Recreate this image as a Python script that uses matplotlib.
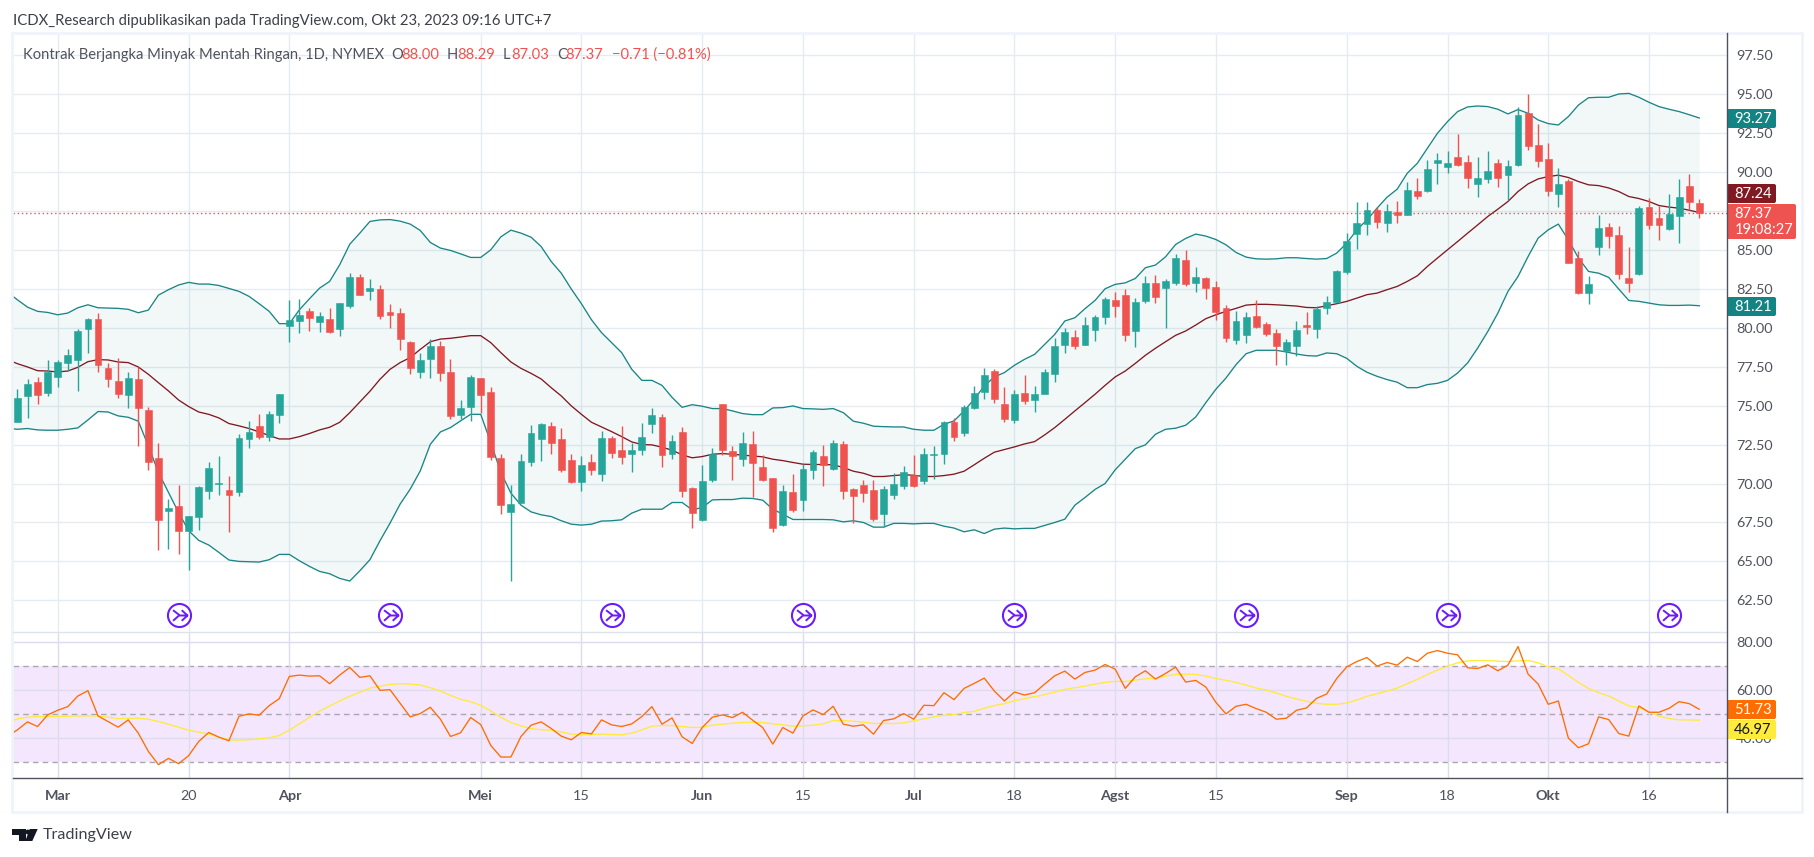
import numpy as np
import matplotlib
matplotlib.use("Agg")
import matplotlib.pyplot as plt
from matplotlib.patches import FancyBboxPatch, Rectangle, Polygon, Circle
from matplotlib.path import Path

# candles, one value per trading day
opens = [73.93,75.60,76.50,75.79,76.82,77.71,77.90,79.89,80.53,77.39,
    76.56,75.66,76.69,74.74,71.62,68.23,68.55,66.94,67.84,69.51,
    69.98,69.57,69.44,72.84,73.68,72.97,74.38,80.09,80.41,81.05,
    80.34,80.53,79.89,81.41,83.25,82.37,82.50,81.03,80.96,79.06,
    77.14,77.97,78.80,77.14,74.38,74.89,76.75,75.85,71.62,68.16,
    68.74,71.37,72.84,73.68,72.84,71.50,70.09,71.37,70.60,72.91,
    72.13,71.88,72.13,73.80,74.25,71.88,73.29,69.70,67.65,70.21,
    75.09,72.07,71.56,72.52,71.05,70.34,67.33,69.44,68.93,70.85,
    71.75,70.92,72.52,69.64,69.89,69.57,68.03,69.25,69.83,70.53,
    70.15,71.84,71.88,73.93,73.23,74.83,75.85,77.20,75.09,74.06,
    75.79,75.34,75.73,77.01,78.87,79.38,78.87,79.83,80.66,81.75,
    82.07,79.76,81.69,82.84,82.52,82.84,84.32,82.84,83.16,82.59,
    81.28,79.23,79.55,80.77,80.26,79.68,78.53,78.85,80.19,79.94,
    81.28,81.67,83.59,86.03,86.67,87.56,86.73,87.44,87.24,88.78,
    88.78,90.58,90.32,90.96,90.64,89.23,89.55,90.58,89.81,90.45,
    93.78,91.73,90.83,88.59,89.42,84.49,82.24,85.19,86.47,85.96,
    83.20,83.46,87.76,87.05,86.35,87.18,89.10,88.00]
closes = [75.47,76.37,75.66,77.14,77.78,78.23,79.76,80.53,77.59,76.69,
    75.73,76.75,74.83,71.37,67.65,68.42,66.94,67.90,69.76,70.98,
    70.02,69.25,72.91,73.29,72.97,74.44,75.73,80.47,80.79,80.60,
    80.73,79.70,81.56,83.25,82.12,82.56,80.77,80.83,79.25,77.39,
    77.90,78.80,77.07,74.32,74.83,76.82,75.66,71.69,68.61,68.68,
    71.43,73.23,73.80,72.59,70.85,70.09,71.18,70.85,72.91,71.94,
    71.69,72.13,72.97,74.38,71.82,72.71,69.51,68.10,70.15,71.88,
    72.13,71.75,72.59,71.30,70.21,67.14,69.51,68.29,70.92,72.01,
    71.18,72.59,69.51,69.19,69.38,67.71,69.64,69.96,70.73,69.83,
    71.88,71.88,73.93,72.97,74.89,75.79,76.94,75.41,74.12,75.73,
    75.28,75.73,77.14,78.80,79.70,78.80,80.15,80.66,81.82,81.37,
    79.51,81.62,82.84,81.95,82.97,84.45,82.78,83.23,82.52,80.98,
    79.36,80.45,80.70,80.06,79.62,78.85,79.10,79.87,80.06,81.22,
    81.67,83.65,85.58,86.73,87.56,86.79,87.50,87.24,88.85,88.46,
    90.19,90.77,90.58,90.45,89.62,89.62,90.06,89.62,90.38,93.65,
    91.67,90.71,88.78,89.23,84.17,82.24,82.82,86.41,85.90,83.46,
    82.88,87.69,86.60,86.60,87.31,88.40,88.08,87.37]
highs = [76.05,76.69,76.86,77.90,77.90,78.65,79.94,80.64,80.96,77.76,
    78.08,77.18,77.46,74.94,72.63,69.00,69.89,67.90,69.82,71.35,
    71.75,70.49,73.16,74.00,74.44,74.68,75.77,81.75,81.86,81.28,
    81.00,81.24,81.60,83.50,83.44,83.14,82.76,81.54,81.26,79.12,
    78.40,79.25,79.12,77.97,75.34,76.99,76.75,76.18,71.88,69.89,
    71.88,73.74,73.87,73.93,73.55,71.88,71.75,71.88,73.35,73.03,
    73.67,72.59,73.87,74.83,74.44,73.10,73.61,69.76,71.18,72.26,
    75.13,72.39,73.29,73.35,71.82,70.38,69.89,70.60,71.24,72.14,
    72.46,72.78,72.71,69.70,70.21,70.21,69.83,70.66,71.11,71.82,
    72.26,72.39,74.00,74.19,75.02,76.24,77.39,77.33,76.18,75.98,
    76.94,76.24,77.33,79.32,79.96,79.83,80.66,80.79,81.97,82.26,
    82.46,81.88,83.30,83.36,83.10,84.70,84.96,83.87,83.23,82.97,
    81.47,81.09,81.03,81.79,80.38,79.94,79.30,80.45,81.00,81.41,
    82.05,83.72,86.09,88.08,88.08,87.76,87.95,88.14,89.36,89.62,
    90.77,91.22,91.35,92.44,91.09,90.96,91.35,90.83,90.77,94.15,
    95.00,93.08,91.86,90.26,89.55,84.94,83.33,87.24,86.73,86.54,
    85.19,87.82,88.33,87.82,88.59,89.55,89.87,88.29]
lows = [73.93,74.19,75.09,75.62,76.18,77.24,75.92,78.35,77.16,76.18,
    75.47,74.85,72.39,70.85,65.73,65.79,65.47,64.44,67.00,69.00,
    69.25,66.88,69.19,72.26,72.84,72.71,73.87,79.06,79.64,79.76,
    79.70,79.64,79.44,81.28,82.12,81.79,80.53,79.96,78.60,77.00,
    76.75,76.75,76.56,74.12,74.12,74.00,74.55,71.50,68.03,63.74,
    68.74,71.11,71.43,71.88,70.73,70.02,69.51,70.53,70.15,71.62,
    71.24,70.73,71.82,73.23,71.05,71.56,69.12,67.14,67.60,70.09,
    71.82,70.21,71.11,69.12,70.15,66.88,67.29,68.16,68.23,70.27,
    69.83,70.85,69.00,67.46,68.80,67.58,67.20,69.00,69.64,69.76,
    69.96,70.27,71.24,72.71,73.03,74.76,75.41,75.15,73.93,73.87,
    75.09,74.57,75.73,76.50,78.35,78.61,78.87,79.12,80.21,80.66,
    79.12,78.74,81.56,81.56,79.96,82.71,82.65,82.26,81.82,80.47,
    79.10,78.97,79.04,80.00,79.49,77.63,77.63,78.21,79.62,79.36,
    80.90,81.58,83.46,85.06,85.96,86.41,86.15,86.73,87.24,88.27,
    88.72,89.23,89.94,90.38,88.97,88.40,89.29,89.04,88.21,90.38,
    91.41,90.32,88.46,87.76,84.17,82.18,81.54,84.68,85.13,83.14,
    82.31,83.40,86.35,85.64,86.28,85.45,87.56,87.03]

# Bollinger bands (first value is the bar just left of the visible range)
bb_upper = [82.29,81.79,81.32,81.05,80.98,80.83,80.94,81.28,81.47,81.28,81.26,
    81.24,81.18,80.96,81.13,82.09,82.44,82.74,82.91,82.80,82.80,
    82.71,82.52,82.33,82.01,81.54,81.05,80.26,80.26,81.15,81.86,
    82.54,82.97,84.04,85.36,86.07,86.82,86.92,86.94,86.84,86.65,
    86.24,85.47,85.11,84.96,84.74,84.51,84.51,85.00,85.83,86.26,
    86.07,85.81,85.21,84.25,83.50,82.48,81.54,80.51,79.68,79.04,
    78.40,77.33,76.62,76.62,76.30,75.53,74.89,75.06,74.96,74.81,
    74.81,74.66,74.49,74.42,74.42,74.85,74.87,74.98,74.81,74.79,
    74.76,74.81,74.55,74.00,73.87,73.68,73.65,73.63,73.63,73.48,
    73.42,73.42,73.80,74.02,74.66,75.41,76.26,76.84,77.12,77.59,
    77.97,78.29,78.93,79.57,80.43,80.64,81.22,81.75,82.50,82.78,
    82.88,83.16,83.85,84.02,84.55,85.34,85.73,86.01,85.88,85.66,
    85.32,84.83,84.53,84.42,84.40,84.42,84.49,84.49,84.44,84.40,
    84.44,84.79,85.43,86.28,86.92,87.67,88.38,88.89,89.91,90.55,
    91.51,92.48,93.23,93.87,94.17,94.23,94.19,94.02,93.72,94.00,
    93.76,93.33,93.10,93.01,93.55,94.29,94.76,94.79,94.79,95.00,
    95.04,94.79,94.47,94.19,94.02,93.87,93.67,93.46]
bb_basis = [77.95,77.69,77.48,77.24,77.22,77.16,77.22,77.46,77.82,77.95,77.93,
    77.80,77.76,77.48,77.01,76.47,75.94,75.36,74.94,74.59,74.44,
    74.21,73.85,73.70,73.53,73.31,73.08,72.86,72.86,73.01,73.21,
    73.44,73.61,73.93,74.55,75.24,75.92,76.69,77.33,77.76,78.08,
    78.61,79.10,79.27,79.32,79.40,79.49,79.49,79.04,78.40,77.80,
    77.39,77.07,76.71,76.15,75.62,74.98,74.44,73.93,73.63,73.33,
    73.01,72.67,72.50,72.48,72.33,72.14,71.84,71.65,71.73,71.88,
    71.92,71.88,71.82,71.77,71.71,71.56,71.47,71.35,71.24,71.22,
    71.22,71.20,71.03,70.79,70.66,70.45,70.45,70.51,70.56,70.53,
    70.45,70.45,70.51,70.60,70.79,71.20,71.62,72.01,72.18,72.35,
    72.54,72.69,73.12,73.59,74.12,74.66,75.19,75.73,76.30,76.84,
    77.22,77.71,78.23,78.68,79.10,79.51,79.79,80.17,80.58,80.83,
    81.05,81.24,81.45,81.50,81.50,81.47,81.43,81.39,81.30,81.28,
    81.41,81.54,81.69,81.90,82.12,82.22,82.44,82.65,82.97,83.33,
    83.93,84.47,85.00,85.53,86.07,86.60,87.14,87.61,88.10,88.74,
    89.23,89.55,89.70,89.79,89.64,89.38,89.17,89.12,88.97,88.74,
    88.42,88.29,88.10,87.84,87.74,87.67,87.54,87.39]
bb_lower = [73.55,73.48,73.53,73.44,73.42,73.42,73.48,73.57,74.08,74.62,74.59,
    74.34,74.25,74.00,72.41,70.71,69.42,68.14,66.97,66.35,66.05,
    65.58,65.09,65.00,64.98,64.96,65.11,65.45,65.45,65.04,64.68,
    64.36,64.21,63.91,63.74,64.40,65.11,66.33,67.46,68.68,69.64,
    70.81,72.52,73.31,73.59,74.02,74.44,74.44,72.63,70.71,69.38,
    68.61,68.18,67.99,67.88,67.61,67.39,67.33,67.39,67.59,67.61,
    67.67,68.10,68.35,68.35,68.35,68.78,68.78,68.31,68.46,68.95,
    68.97,68.97,69.06,69.04,68.93,68.35,68.03,67.69,67.69,67.69,
    67.69,67.67,67.54,67.61,67.50,67.20,67.20,67.44,67.44,67.41,
    67.44,67.44,67.26,67.14,66.90,67.03,66.79,67.07,67.14,67.09,
    67.12,67.12,67.31,67.50,67.71,68.61,69.10,69.62,70.00,70.88,
    71.56,72.24,72.48,73.16,73.48,73.55,73.74,74.27,75.19,76.05,
    76.77,77.63,78.33,78.55,78.55,78.55,78.44,78.31,78.21,78.18,
    78.38,78.33,78.03,77.52,77.14,76.88,76.67,76.50,76.15,76.15,
    76.35,76.43,76.62,77.09,77.74,78.70,79.76,80.94,82.33,83.29,
    84.57,85.75,86.28,86.65,85.64,84.47,83.61,83.50,83.23,82.48,
    81.75,81.69,81.58,81.47,81.43,81.43,81.45,81.41]

# RSI and its moving average (same leading bar)
rsi = [40.50,43.26,46.57,44.64,49.48,51.41,52.93,57.35,59.56,49.06,46.71,
    44.36,47.40,41.88,34.28,28.76,31.38,29.17,32.49,38.43,42.15,
    40.22,38.70,48.92,49.89,49.34,53.34,56.24,65.50,66.05,65.64,
    65.77,62.46,66.05,69.23,65.08,65.77,59.70,59.97,54.31,48.65,
    50.03,52.65,47.68,40.50,42.02,48.37,45.47,36.77,31.93,31.93,
    40.50,45.19,46.57,43.81,40.64,39.12,42.15,41.60,47.40,45.33,
    44.64,45.75,48.78,52.93,45.61,48.23,40.36,37.60,44.23,48.51,
    49.48,48.37,50.58,47.27,44.23,37.32,44.23,41.88,49.06,51.55,
    49.61,53.07,45.61,44.78,45.33,41.46,47.13,47.82,50.03,47.68,
    53.48,53.34,58.73,55.83,60.52,62.60,64.81,59.42,55.28,59.00,
    57.76,58.73,62.32,65.77,67.71,64.39,67.15,68.12,70.47,68.54,
    60.52,65.36,67.85,64.39,66.74,69.36,63.15,63.84,61.08,54.72,
    49.89,53.07,53.90,52.10,50.58,47.68,48.09,51.41,52.38,56.38,
    58.18,64.67,69.50,71.71,73.37,69.78,71.30,70.19,73.51,71.71,
    75.17,76.27,75.17,74.48,69.09,68.81,70.33,67.85,70.19,77.93,
    66.46,62.32,53.90,55.28,39.81,35.80,37.46,48.65,47.54,41.74,
    40.64,53.20,50.58,50.58,52.24,55.00,54.17,51.82]
rsi_ma = [46.30,47.82,48.51,48.78,48.78,48.78,48.92,49.06,49.06,49.06,48.51,
    47.96,48.09,48.09,47.68,46.71,45.61,44.36,43.12,42.29,41.46,
    40.22,39.12,38.98,39.12,39.53,39.94,40.91,43.12,45.75,48.51,
    50.99,53.20,55.28,57.21,58.87,60.66,61.49,62.18,62.46,62.32,
    61.91,60.80,59.42,57.62,55.97,54.97,53.48,51.13,48.51,46.30,
    44.92,43.81,43.26,43.12,42.43,41.46,41.19,41.33,41.46,41.33,
    41.19,41.88,43.26,44.78,45.06,45.06,44.64,44.23,44.36,45.19,
    45.61,46.02,46.30,46.44,46.30,45.75,45.33,44.78,44.92,45.19,
    45.75,47.13,47.13,46.85,46.44,45.88,45.88,45.88,46.16,46.99,
    47.82,48.65,49.34,49.61,50.44,50.99,52.24,53.34,54.17,55.41,
    56.24,57.07,57.90,59.00,60.11,60.80,61.49,62.32,63.01,63.43,
    63.43,63.98,64.53,64.67,65.64,66.33,66.46,66.33,65.64,64.67,
    63.87,63.01,61.91,60.66,59.83,58.59,57.21,56.10,55.14,54.31,
    53.90,53.90,54.45,55.69,57.21,58.31,59.42,60.66,62.46,64.25,
    66.33,68.12,69.78,71.16,71.99,72.13,72.13,71.85,71.71,71.99,
    72.13,71.16,69.50,68.67,65.91,63.01,60.52,58.73,57.35,55.28,
    53.20,52.51,50.72,48.92,47.96,47.40,47.40,47.27]

# time axis: bar number of each tick and its label
tick_bars = [4, 17, 27, 46, 56, 68, 78, 89, 99, 109, 119, 132, 142, 152, 162]
tick_labels = ["Mar", "20", "Apr", "Mei", "15", "Jun", "15", "Jul", "18",
               "Agst", "15", "Sep", "18", "Okt", "16"]
month_labels = ["Mar", "Apr", "Mei", "Jun", "Jul", "Agst", "Sep", "Okt"]

price_ticks = [62.5, 65, 67.5, 70, 72.5, 75, 77.5, 80, 82.5, 85, 87.5, 90, 92.5, 95, 97.5]
rsi_ticks = [40, 60, 80]
rsi_levels = [30, 50, 70]
event_bars = [16, 37, 59, 78, 99, 122, 142, 164]
event_level = 61.58
last_close = 87.37

UP = "#26a69a"
DOWN = "#ef5350"
BAND = "#1a8585"
GRID = "#e4ecf2"
TEXT = "#50535e"
FONT = "Lato"

W, H = 1815, 857
LEFT, RIGHT = 13, 1727
TOP, SPLIT, BOTTOM = 34, 632, 778
FRAME_R, FRAME_B = 1802, 812

plt.rcParams["font.family"] = FONT
fig = plt.figure(figsize=(W / 100, H / 100), dpi=100, facecolor="white")


def pane(y0, y1):
    return fig.add_axes([LEFT / W, 1 - y1 / H, (RIGHT - LEFT) / W, (y1 - y0) / H])


ax = pane(TOP, SPLIT)
ax_rsi = pane(SPLIT, BOTTOM)
bars = np.arange(len(closes))
line_bars = np.arange(-1, len(closes))
xlim = (-0.44, 169.75)

for a in (ax, ax_rsi):
    a.set_xlim(*xlim)
    a.set_xticks(tick_bars)
    a.grid(True, color=GRID, linewidth=1.0, zorder=0)
    a.set_axisbelow(True)
    a.yaxis.tick_right()
    a.tick_params(length=0, labelsize=10.4, labelcolor=TEXT)
    a.tick_params(axis="y", pad=6.5)
    for s in a.spines.values():
        s.set_visible(False)

# price pane
ax.set_ylim(60.47, 98.85)
ax.set_yticks(price_ticks)
# 87.50 sits under the last price label, so it gets no text
ax.set_yticklabels(["" if t == 87.5 else "%.2f" % t for t in price_ticks])
ax.tick_params(labelbottom=False)

ax.fill_between(line_bars, bb_lower, bb_upper, color=BAND, alpha=0.055, linewidth=0, zorder=1)
ax.plot(line_bars, bb_upper, color=BAND, linewidth=0.95, zorder=2)
ax.plot(line_bars, bb_lower, color=BAND, linewidth=0.95, zorder=2)
ax.plot(line_bars, bb_basis, color="#801922", linewidth=0.95, zorder=2)
ax.axhline(last_close, color=DOWN, linewidth=1.0, linestyle=(0, (1, 2)), zorder=2)

colors = [UP if c >= o else DOWN for o, c in zip(opens, closes)]
ax.vlines(bars, lows, highs, colors=colors, linewidth=1.0, zorder=3)
body_bottom = np.minimum(opens, closes)
body_height = np.abs(np.array(closes) - np.array(opens))
ax.bar(bars, body_height, bottom=body_bottom, width=0.68, color=colors,
       edgecolor=colors, linewidth=0.4, zorder=4)

# event icons: ring plus the small arrow inside
arrow = Path([(-6.7, 5.5), (0.5, 0), (8.3, 0), (2.3, 5.5), (8.3, 0), (2.3, -5.5),
              (-6.7, -5.5), (-0.5, 0)],
             [Path.MOVETO, Path.LINETO, Path.LINETO, Path.MOVETO, Path.LINETO, Path.LINETO,
              Path.MOVETO, Path.LINETO])
evt_y = [event_level] * len(event_bars)
ax.plot(event_bars, evt_y, linestyle="none", marker="o", markersize=16.6,
        markerfacecolor="white", markeredgecolor="#6a1bff", markeredgewidth=1.5,
        zorder=5, clip_on=False)
ax.plot(event_bars, evt_y, linestyle="none", marker=arrow, markersize=11.5,
        markerfacecolor="none", markeredgecolor="#6a1bff", markeredgewidth=1.4,
        zorder=6, clip_on=False)

# RSI pane
ax_rsi.set_ylim(23.2, 84.0)
ax_rsi.set_yticks(rsi_ticks)
ax_rsi.set_yticklabels(["%.2f" % t for t in rsi_ticks])
ax_rsi.set_xticklabels(tick_labels)
ax_rsi.tick_params(axis="x", pad=9, labelcolor=TEXT)
for lab in ax_rsi.get_xticklabels():
    if lab.get_text() in month_labels:
        lab.set_fontweight("bold")
ax_rsi.axhspan(rsi_levels[0], rsi_levels[-1], color="#f4e6fc", linewidth=0, zorder=0.5)
for lev in rsi_levels:
    ax_rsi.axhline(lev, color="#a8a9b0", linewidth=1.0, linestyle=(0, (4, 3)), zorder=2)
ax_rsi.set_axisbelow(False)
for gl in ax_rsi.get_xgridlines() + ax_rsi.get_ygridlines():
    gl.set_zorder(1)
    gl.set_color("#dcdcec")
ax_rsi.plot(line_bars, rsi_ma, color="#ffeb3b", linewidth=0.95, zorder=3)
ax_rsi.plot(line_bars, rsi, color="#ff6d00", linewidth=0.95, zorder=4)

# overlay in pixel coordinates for frame, labels and header text
ov = fig.add_axes([0, 0, 1, 1], zorder=10)
ov.set_xlim(0, W)
ov.set_ylim(H, 0)
ov.axis("off")
ov.patch.set_alpha(0)

ov.add_patch(Rectangle((LEFT - 0.5, TOP - 1.5), FRAME_R - LEFT + 0.5, FRAME_B - TOP + 1.5,
                       fill=False, edgecolor="#f0f3fa", linewidth=2.0))
ov.plot([LEFT, RIGHT], [SPLIT, SPLIT], color="#e0e3eb", linewidth=1.0)
ov.plot([LEFT, FRAME_R], [BOTTOM, BOTTOM], color="#50535e", linewidth=1.0)
ov.plot([RIGHT, RIGHT], [TOP - 1, FRAME_B], color="#50535e", linewidth=1.0)


def label_box(x0, x1, y0, y1, color):
    ov.add_patch(FancyBboxPatch((x0 + 1, y0 + 1), x1 - x0 - 2, y1 - y0 - 2,
                                boxstyle="round,pad=1,rounding_size=2",
                                facecolor=color, edgecolor="none"))


def box_text(s, x, y, color="white"):
    ov.text(x, y, s, color=color, fontsize=10.6, ha="center", va="center")


label_box(RIGHT, 1776, 109, 128, "#138484")
box_text("93.27", 1753, 119)
label_box(RIGHT, 1776, 184, 203, "#801922")
box_text("87.24", 1753, 194)
label_box(RIGHT, 1796, 204, 239, DOWN)
box_text("87.37", 1753, 214)
box_text("19:08:27", 1764, 230)
label_box(RIGHT, 1776, 297, 316, "#138484")
box_text("81.21", 1753, 307)
label_box(RIGHT, 1776, 700, 719, "#ff6d00")
box_text("51.73", 1753, 710)
label_box(RIGHT, 1776, 720, 739, "#ffeb3b")
box_text("46.97", 1753, 730, color="#131722")

# header
ov.text(13, 21, "ICDX_Research dipublikasikan pada TradingView.com, Okt 23, 2023 09:16 UTC+7",
        color="#3d404a", fontsize=10.7, ha="left", va="center")
ov.text(23, 54.5, "Kontrak Berjangka Minyak Mentah Ringan, 1D, NYMEX", color=TEXT,
        fontsize=10.65, ha="left", va="center")
header_vals = [(391, "O", 401, "88.00"), (447, "H", 457, "88.29"),
               (503, "L", 511, "87.03"), (557, "C", 565, "87.37")]
for x0, key, x1, val in header_vals:
    ov.text(x0, 54.5, key, color=TEXT, fontsize=10.65, ha="left", va="center")
    ov.text(x1, 54.5, val, color=DOWN, fontsize=10.65, ha="left", va="center")
ov.text(612, 54.5, "\u22120.71 (\u22120.81%)", color=DOWN, fontsize=10.65, ha="left", va="center")

# TradingView logo
ov.add_patch(Polygon([(12.5, 829), (25.7, 829), (25.7, 841), (19, 841), (19, 835), (12.5, 835)],
                     facecolor="#131722", edgecolor="none"))
ov.add_patch(Circle((27.8, 832), 2.4, facecolor="#131722", edgecolor="none"))
ov.add_patch(Polygon([(29.7, 829), (37.7, 829), (32.3, 841), (25.3, 841)],
                     facecolor="#131722", edgecolor="none"))
ov.text(43, 835.5, "TradingView", color="#3d404a", fontsize=11.6, ha="left", va="center")

fig.savefig("out.png", dpi=100)
